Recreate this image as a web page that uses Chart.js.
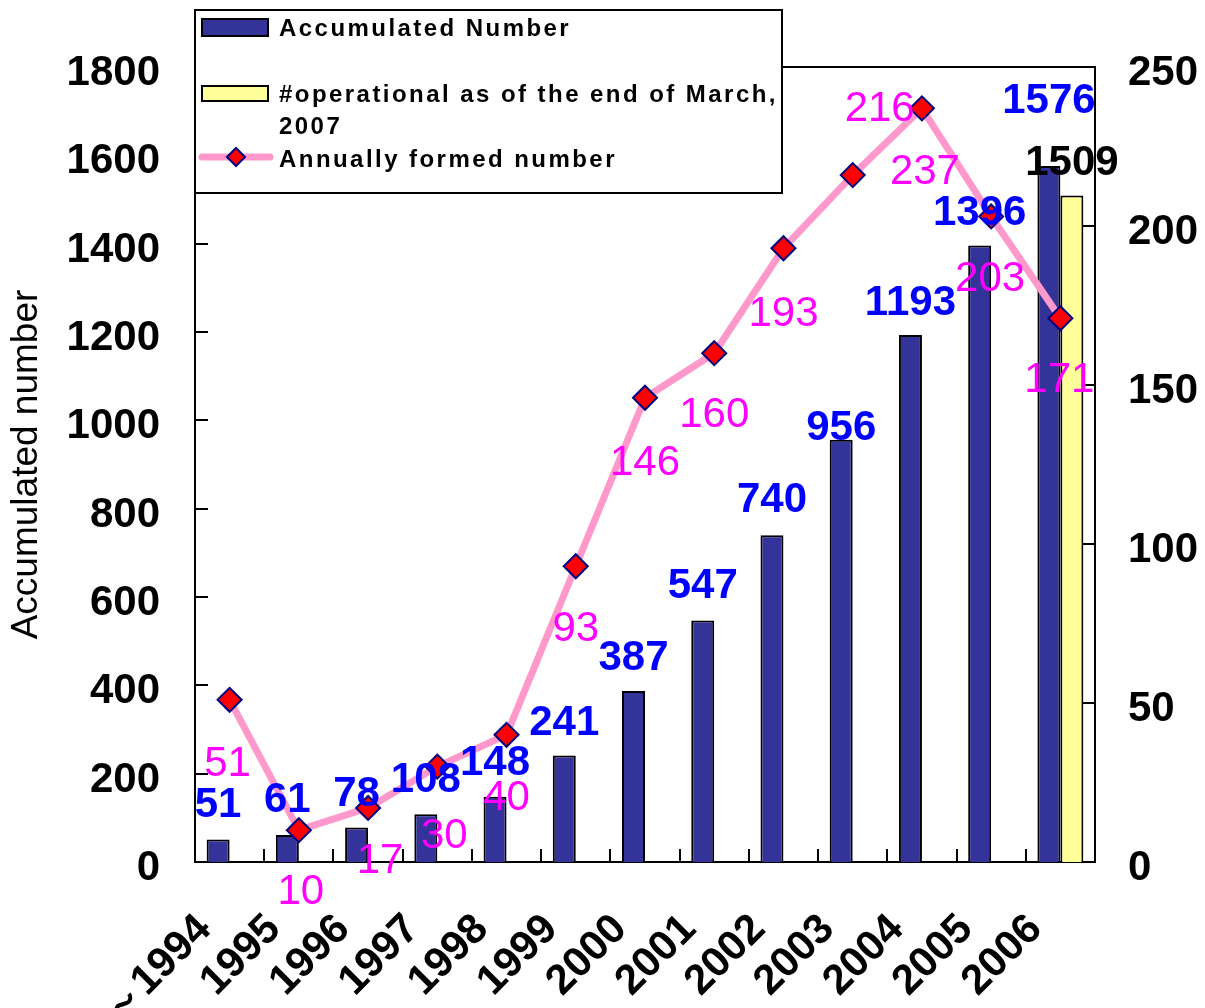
<!DOCTYPE html>
<html><head><meta charset="utf-8">
<script src="https://cdn.jsdelivr.net/npm/chart.js@4"></script>
<style>html,body{margin:0;padding:0;background:#fff;}canvas{display:block;}</style>
</head><body>
<canvas id="c" width="1205" height="1008"></canvas>
<script>
// ---- data ----
const categories = ['～1994','1995','1996','1997','1998','1999','2000','2001','2002','2003','2004','2005','2006'];
const accumulated = [51,61,78,108,148,241,387,547,740,956,1193,1396,1576];
const operational = [null,null,null,null,null,null,null,null,null,null,null,null,1509];
const annual = [51,10,17,30,40,93,146,160,193,216,237,203,171];
const leftTicks = [0,200,400,600,800,1000,1200,1400,1600,1800];
const rightTicks = [0,50,100,150,200,250];
const seriesNames = ['Accumulated Number','#operational as of the end of March, 2007','Annually formed number'];
const yTitle = 'Accumulated number';
// label placement tweaks (pixels)
const accLabelLift = [37,38,37,37,37,36,36,37,38,15,35,35,68];
const opLabelLift = 36;
const annualLabelDx = [-2,2,12,7,0,0,0,0,0,27,3,-1,-1];
const annualLabelDy = [61,59,50,66,60,60,62,59,63,-69,61,60,59];

const FAMILY = '"Liberation Sans", Arial, sans-serif';
const BOLD42 = 'bold 42px ' + FAMILY;
const REG42 = '42px ' + FAMILY;

function drawDiamond(ctx, x, y, r, fill, stroke, lw) {
  ctx.beginPath();
  ctx.moveTo(x - r, y); ctx.lineTo(x, y - r); ctx.lineTo(x + r, y); ctx.lineTo(x, y + r);
  ctx.closePath();
  ctx.fillStyle = fill; ctx.fill();
  ctx.lineWidth = lw; ctx.strokeStyle = stroke; ctx.stroke();
}

const decorPlugin = {
  id: 'decor',
  afterDatasetsDraw(chart) {
    const ctx = chart.ctx;
    const ca = chart.chartArea;
    ctx.save();
    // inner tick marks
    ctx.strokeStyle = '#000'; ctx.lineWidth = 2;
    const y = chart.scales.y, y1 = chart.scales.y1, x = chart.scales.x;
    leftTicks.forEach(v => { const p = Math.round(y.getPixelForValue(v)); ctx.beginPath(); ctx.moveTo(ca.left, p); ctx.lineTo(ca.left + 13, p); ctx.stroke(); });
    rightTicks.forEach(v => { const p = Math.round(y1.getPixelForValue(v)); ctx.beginPath(); ctx.moveTo(ca.right, p); ctx.lineTo(ca.right - 13, p); ctx.stroke(); });
    for (let i = 1; i < categories.length; i++) {
      const p = Math.round((x.getPixelForValue(i - 1) + x.getPixelForValue(i)) / 2);
      ctx.beginPath(); ctx.moveTo(p, ca.bottom); ctx.lineTo(p, ca.bottom - 13); ctx.stroke();
    }
    // top border of plot area
    ctx.beginPath(); ctx.moveTo(ca.left, ca.top); ctx.lineTo(ca.right + 1, ca.top); ctx.stroke();

    // value labels
    ctx.textAlign = 'center'; ctx.textBaseline = 'alphabetic';
    ctx.font = BOLD42; ctx.fillStyle = '#0000FF';
    chart.getDatasetMeta(0).data.forEach((el, i) => {
      ctx.fillText(String(accumulated[i]), el.x, el.y - accLabelLift[i] + 15);
    });
    ctx.fillStyle = '#000';
    chart.getDatasetMeta(1).data.forEach((el, i) => {
      if (operational[i] == null) return;
      ctx.fillText(String(operational[i]), el.x, el.y - opLabelLift + 15);
    });
    ctx.font = REG42; ctx.fillStyle = '#FF00FF';
    chart.getDatasetMeta(2).data.forEach((el, i) => {
      ctx.fillText(String(annual[i]), el.x + annualLabelDx[i], el.y + annualLabelDy[i] + 15);
    });
    ctx.restore();
  },
  afterDraw(chart) {
    const ctx = chart.ctx;
    ctx.save();
    // legend box
    const L = 195, T = 10, R = 782, B = 193;
    ctx.fillStyle = '#fff'; ctx.fillRect(L, T, R - L, B - T);
    ctx.lineWidth = 2; ctx.strokeStyle = '#000'; ctx.strokeRect(L, T, R - L, B - T);
    // swatches
    ctx.fillStyle = '#333399'; ctx.fillRect(202, 19, 66, 17); ctx.strokeRect(202, 19, 66, 17);
    ctx.fillStyle = '#FFFF99'; ctx.fillRect(202, 86, 66, 15); ctx.strokeRect(202, 86, 66, 15);
    ctx.strokeStyle = '#FF99CC'; ctx.lineWidth = 7; ctx.lineCap = 'round';
    ctx.beginPath(); ctx.moveTo(202, 157); ctx.lineTo(270, 157); ctx.stroke();
    ctx.lineCap = 'butt';
    drawDiamond(ctx, 236, 157, 9, '#FF0000', '#000080', 2);
    // texts
    ctx.fillStyle = '#000'; ctx.font = 'bold 24px ' + FAMILY;
    try { ctx.letterSpacing = '2.45px'; } catch (e) {}
    ctx.textAlign = 'left'; ctx.textBaseline = 'middle';
    const tx = 279, maxW = R - tx;
    function wrap(text) {
      const words = text.split(' '); const lines = []; let cur = '';
      words.forEach(w => { const t = cur ? cur + ' ' + w : w; if (ctx.measureText(t).width > maxW && cur) { lines.push(cur); cur = w; } else cur = t; });
      if (cur) lines.push(cur); return lines;
    }
    ctx.fillText(seriesNames[0], tx, 29);
    wrap(seriesNames[1]).forEach((ln, k) => ctx.fillText(ln, tx, 95 + k * 32));
    ctx.fillText(seriesNames[2], tx, 160);
    ctx.restore();
  }
};

const yTickFont = { family: FAMILY, size: 42, weight: 'bold', lineHeight: 0.3 };

new Chart(document.getElementById('c'), {
  type: 'bar',
  data: {
    labels: categories,
    datasets: [
      { type: 'bar', label: seriesNames[0], data: accumulated, yAxisID: 'y', backgroundColor: '#333399', borderColor: '#000', borderWidth: 2, categoryPercentage: 0.664, barPercentage: 1, order: 2 },
      { type: 'bar', label: seriesNames[1], data: operational, yAxisID: 'y', backgroundColor: '#FFFF99', borderColor: '#000', borderWidth: 2, categoryPercentage: 0.664, barPercentage: 1, order: 2 },
      { type: 'line', label: seriesNames[2], data: annual, yAxisID: 'y1', borderColor: '#FF99CC', borderWidth: 7, borderJoinStyle: 'round', tension: 0,
        pointStyle: 'rectRot', pointRadius: 12, pointBackgroundColor: '#FF0000', pointBorderColor: '#000080', pointBorderWidth: 2, order: 0 }
    ]
  },
  options: {
    responsive: false, devicePixelRatio: 1, animation: false,
    layout: { padding: { top: 67, left: 0, right: 0, bottom: 0 } },
    plugins: { legend: { display: false }, tooltip: { enabled: false } },
    scales: {
      x: {
        grid: { display: false, drawTicks: false },
        border: { display: true, color: '#000', width: 2 },
        ticks: { font: { family: FAMILY, size: 42, weight: 'bold' }, color: '#000', maxRotation: 45, minRotation: 45, autoSkip: false, padding: 18,
          callback: (v, i) => categories[i] + '   ' },
        afterFit(s) { s.height = 1008 - 862; }
      },
      y: {
        position: 'left', min: 0, max: 1800,
        afterBuildTicks(s) { s.ticks = leftTicks.map(v => ({ value: v })); },
        grid: { display: false, drawTicks: false },
        border: { display: true, color: '#000', width: 2 },
        ticks: { font: yTickFont, color: '#000', padding: 35, callback: v => ['', String(v)] },
        title: { display: true, text: yTitle, color: '#000', font: { family: FAMILY, size: 37 }, padding: { top: 5, bottom: 0 } },
        afterFit(s) { s.width = 195; }
      },
      y1: {
        position: 'right', min: 0, max: 250,
        afterBuildTicks(s) { s.ticks = rightTicks.map(v => ({ value: v })); },
        grid: { display: false, drawTicks: false },
        border: { display: true, color: '#000', width: 2 },
        ticks: { font: yTickFont, color: '#000', padding: 33, callback: v => ['', String(v)] },
        afterFit(s) { s.width = 1205 - 1095; }
      }
    }
  },
  plugins: [decorPlugin]
});
</script>
</body></html>
